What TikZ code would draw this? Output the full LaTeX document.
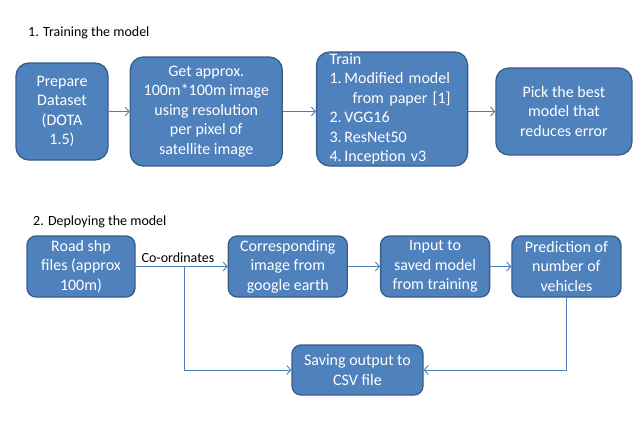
\documentclass[tikz,border=0pt]{standalone}
\usepackage{fontspec}
\setmainfont{Carlito}
\usepackage{tikz}
\usetikzlibrary{
  arrows.meta,
  positioning
}
\definecolor{OfficeBlue}{RGB}{79,129,189}
\definecolor{OfficeEdge}{RGB}{56,93,138}
\definecolor{LinkBlue}{RGB}{74,126,187}
\tikzset{
  stepbox/.style={
    draw=OfficeEdge,
    fill=OfficeBlue,
    line width=1.3pt,
    text=white,
    align=center,
    font=\fontsize{16}{19.5}\selectfont,
    inner sep=0pt
  },
  trainbox/.style={stepbox,rounded corners=13pt},
  deploybox/.style={stepbox,rounded corners=9pt},
  heading/.style={anchor=west,font=\fontsize{14}{17}\selectfont,inner sep=0pt},
  arrow/.style={-{Straight Barb[length=4pt,width=9pt]},line width=0.9pt,draw=LinkBlue}
}

\begin{document}
\begin{tikzpicture}[x=1pt,y=-1pt]
  \useasboundingbox[fill=white] (0,0) rectangle (638,423);

  % training
  \node[heading] (traintitle) at (28,33) {1. Training the model};
  \node[trainbox, minimum width=92pt, minimum height=97pt] (prep) at (62,111.5)
    {Prepare\\Dataset\\(DOTA\\1.5)};
  \node[trainbox, right=21pt of prep, minimum width=152pt, minimum height=109pt] (approx)
    {Get approx.\\100m*100m image\\using resolution\\per pixel of\\satellite image};
  \node[trainbox, right=33pt of approx, yshift=2.5pt, minimum width=151pt, minimum height=114pt,
        align=left, text width=125pt] (train)
    {Train\\1.\,Modified model\\\hspace*{23pt}from paper [1]\\2.\,VGG16\\3.\,ResNet50\\4.\,Inception v3};
  \node[trainbox, right=27pt of train, yshift=-2.5pt, minimum width=136pt, minimum height=87pt] (pick)
    {Pick the best\\model that\\reduces error};

  \draw[arrow] (prep) -- (approx);
  \draw[arrow] (approx) -- (train.west |- approx);
  \draw[arrow] (train.east |- pick) -- (pick);

  % deploying
  \node[heading] (deploytitle) at (33,222) {2. Deploying the model};
  \node[deploybox, minimum width=108pt, minimum height=61pt] (road) at (81,266.5)
    {Road shp\\files (approx\\100m)};
  \node[deploybox, right=92pt of road, minimum width=119pt, minimum height=61pt] (corr)
    {Corresponding\\image from\\google earth};
  \node[deploybox, right=32pt of corr, minimum width=109pt, minimum height=61pt] (input)
    {Input to\\saved model\\from training};
  \node[deploybox, right=21pt of input, minimum width=109pt, minimum height=61pt] (pred)
    {Prediction of\\number of\\vehicles};
  \node[deploybox, minimum width=131pt, minimum height=50pt] (save) at (357.5,370)
    {Saving output to\\CSV file};

  \draw[arrow] (road) -- node[pos=0.46, above=3pt, font=\fontsize{14}{17}\selectfont, inner sep=0pt]{Co-ordinates}
    coordinate[pos=0.53] (split) (corr);
  \draw[arrow] (corr) -- (input);
  \draw[arrow] (input) -- (pred);
  \draw[arrow] (split) |- (save.west);
  \draw[arrow] (pred.south) |- (save.east);
\end{tikzpicture}
\end{document}
